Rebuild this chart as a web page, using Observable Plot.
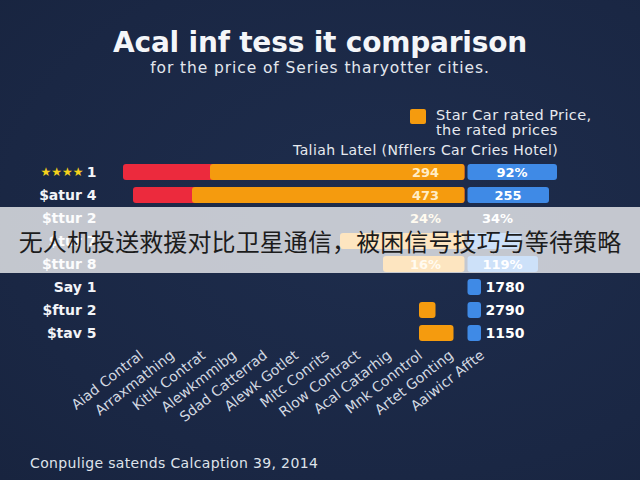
<!DOCTYPE html>
<html>
<head>
<meta charset="utf-8">
<script src="https://cdn.jsdelivr.net/npm/d3@7"></script>
<script src="https://cdn.jsdelivr.net/npm/@observablehq/plot@0.6"></script>
<style>
  html, body { margin: 0; padding: 0; background: #1b2947; }
  #wrap { position: relative; width: 640px; height: 480px; overflow: hidden;
          background: radial-gradient(ellipse at 60% 45%, #1e2d4d 0%, #1a2744 70%, #18243f 100%);
          font-family: "DejaVu Sans", sans-serif; color: #fff; }
  .abs { position: absolute; white-space: nowrap; }
  #title { left: 0; width: 640px; top: 27px; text-align: center; font-family: "DejaVu Sans", sans-serif;
           font-weight: bold; font-size: 28px; line-height: 32px; color: #f4f6f9; letter-spacing: -0.2px; }
  #subtitle { left: 0; width: 640px; top: 58px; text-align: center; font-size: 15.5px; line-height: 20px; color: #e3e7ee; letter-spacing: 0.9px; }
  #legSwatch { left: 410px; top: 109px; width: 16px; height: 15px; background: #f59b0e; border-radius: 2px; }
  #legText { left: 436px; top: 108px; font-size: 14.5px; line-height: 15px; color: #e6e9ef; letter-spacing: 0.4px; }
  #legTitle { left: 293px; top: 141px; font-size: 14px; line-height: 18px; color: #e6e9ef; letter-spacing: 0.4px; }
  #caption { left: 30px; top: 453px; font-size: 14px; line-height: 20px; color: #dfe3ea; letter-spacing: 0.35px; }
  #overlay { left: 0; top: 207px; width: 640px; height: 66px; background: rgba(255,255,255,0.74); }
  #overlayText { left: 0; width: 640px; top: 225px; text-align: center; font-family: "Noto Sans CJK SC", sans-serif;
                 font-size: 24px; line-height: 32px; color: #1c1c1c; letter-spacing: 0.1px; }
  svg { position: absolute; left: 0; top: 0; }
</style>
</head>
<body>
<div id="wrap">
  <div id="chart"></div>
  <div id="axis"></div>
  <div class="abs" id="title"></div>
  <div class="abs" id="subtitle"></div>
  <div class="abs" id="legSwatch"></div>
  <div class="abs" id="legText"></div>
  <div class="abs" id="legTitle"></div>
  <div class="abs" id="caption"></div>
  <div class="abs" id="overlay"></div>
  <div class="abs" id="overlayText"></div>
</div>
<script>
// ---- texts ----
const titleText = "Acal inf tess it comparison";
const subtitleText = "for the price of Series tharyotter cities.";
const legendLines = ["Star Car rated Price,", "the rated prices"];
const legendTitle = "Taliah Latel (Nfflers Car Cries Hotel)";
const captionText = "Conpulige satends Calcaption 39, 2014";
const overlayCaption = "无人机投送救援对比卫星通信，被困信号技巧与等待策略";

// ---- data ----
const categories = ["★★★★ 1", "$atur 4", "$ttur 2", "$tur 7", "$ttur 8", "Say 1", "$ftur 2", "$tav 5"];
const redStart    = [-343, -333, null, null, null, null, null, null];
const orangeStart = [-256, -274, -83, -126, -83, null, -47, -47];
const orangeEnd   = [0, 0, 0, 0, 0, null, -29, -11];
const blueEnd     = [91, 83, 62, 55, 72, 15, 15, 15];
const barsDrawn   = [true, true, false, true, true, true, true, true];
const orangeLabels = ["294", "473", "24%", "", "16%", "", "", ""];
const blueLabels   = ["92%", "255", "34%", "", "119%", "1780", "2790", "1150"];
const xTickLabels = ["Aiad Contral", "Arraxmathing", "Kitlk Contrat", "Alewkmmibg", "Sdad Catterrad", "Alewk Gotlet",
                     "Mitc Conrits", "Rlow Contract", "Acal Catarhig", "Mnk Conntrol", "Artet Gonting", "Aaiwicr Affte"];

const rows = categories.map((c, i) => ({
  cat: c, i,
  red: redStart[i], os: orangeStart[i], oe: orangeEnd[i], blue: blueEnd[i], drawn: barsDrawn[i],
  ol: orangeLabels[i], bl: blueLabels[i]
}));

document.getElementById("title").textContent = titleText;
document.getElementById("subtitle").textContent = subtitleText;
document.getElementById("legText").innerHTML = legendLines.join("<br>");
document.getElementById("legTitle").textContent = legendTitle;
document.getElementById("caption").textContent = captionText;
document.getElementById("overlayText").textContent = overlayCaption;

const RED = "#ec2a3d", ORANGE = "#f59b0e", BLUE = "#3f8ae6";
const font = "'DejaVu Sans', sans-serif";

const splitStar = s => { const k = s.lastIndexOf(" "); return s.startsWith("★") ? [s.slice(0, k), s.slice(k + 1)] : ["", s]; };

const chart = Plot.plot({
  width: 640, height: 480,
  marginLeft: 110, marginRight: 40, marginTop: 156, marginBottom: 131,
  style: { background: "transparent", fontFamily: font },
  x: { domain: [-356, 134], axis: null },
  y: { type: "band", domain: categories, padding: 0.32, axis: null },
  marks: [
    Plot.barX(rows.filter(d => d.drawn && d.red != null), { y: "cat", x1: "red", x2: 0, fill: RED, rx: 3, insetRight: 1.5 }),
    Plot.barX(rows.filter(d => d.drawn && d.os != null), { y: "cat", x1: "os", x2: "oe", fill: ORANGE, rx: 3, insetRight: 1.5 }),
    Plot.barX(rows.filter(d => d.drawn), { y: "cat", x1: 0, x2: "blue", fill: BLUE, rx: 3, insetLeft: 1.5 }),
    Plot.text(rows.filter(d => d.ol), { y: "cat", x: -41, text: "ol", fill: "#ffedc6", fontSize: 13, fontWeight: 600 }),
    Plot.text(rows.filter(d => d.bl && d.blue >= 40), { y: "cat", x: d => d.blue / 2, text: "bl", fill: "#ffffff", fontSize: 13, fontWeight: 600 }),
    Plot.text(rows.filter(d => d.bl && d.blue < 40), { y: "cat", x: "blue", text: "bl", fill: "#ffffff", fontSize: 14, fontWeight: 600, textAnchor: "start", dx: 4 }),
    Plot.text(rows, { y: "cat", frameAnchor: "left", text: d => splitStar(d.cat)[1], fill: "#f2f4f8", fontSize: 14, fontWeight: "bold", textAnchor: "end", dx: -14 }),
    Plot.text(rows.filter(d => splitStar(d.cat)[0]), { y: "cat", frameAnchor: "left", text: d => splitStar(d.cat)[0], fill: "#f6d21c", fontSize: 12, textAnchor: "end", dx: -27 })
  ]
});
document.getElementById("chart").appendChild(chart);

const axis = Plot.plot({
  width: 640, height: 480,
  marginTop: 0, marginBottom: 127, marginLeft: 0, marginRight: 0,
  style: { background: "transparent", fontFamily: font },
  x: { type: "point", domain: xTickLabels, range: [138, 484], padding: 0 },
  marks: [
    Plot.axisX({ anchor: "bottom", tickRotate: -38, tickSize: 0, tickPadding: 0, fill: "#d3d9e2", fontSize: 14, label: null })
  ]
});
document.getElementById("axis").appendChild(axis);
</script>
</body>
</html>
